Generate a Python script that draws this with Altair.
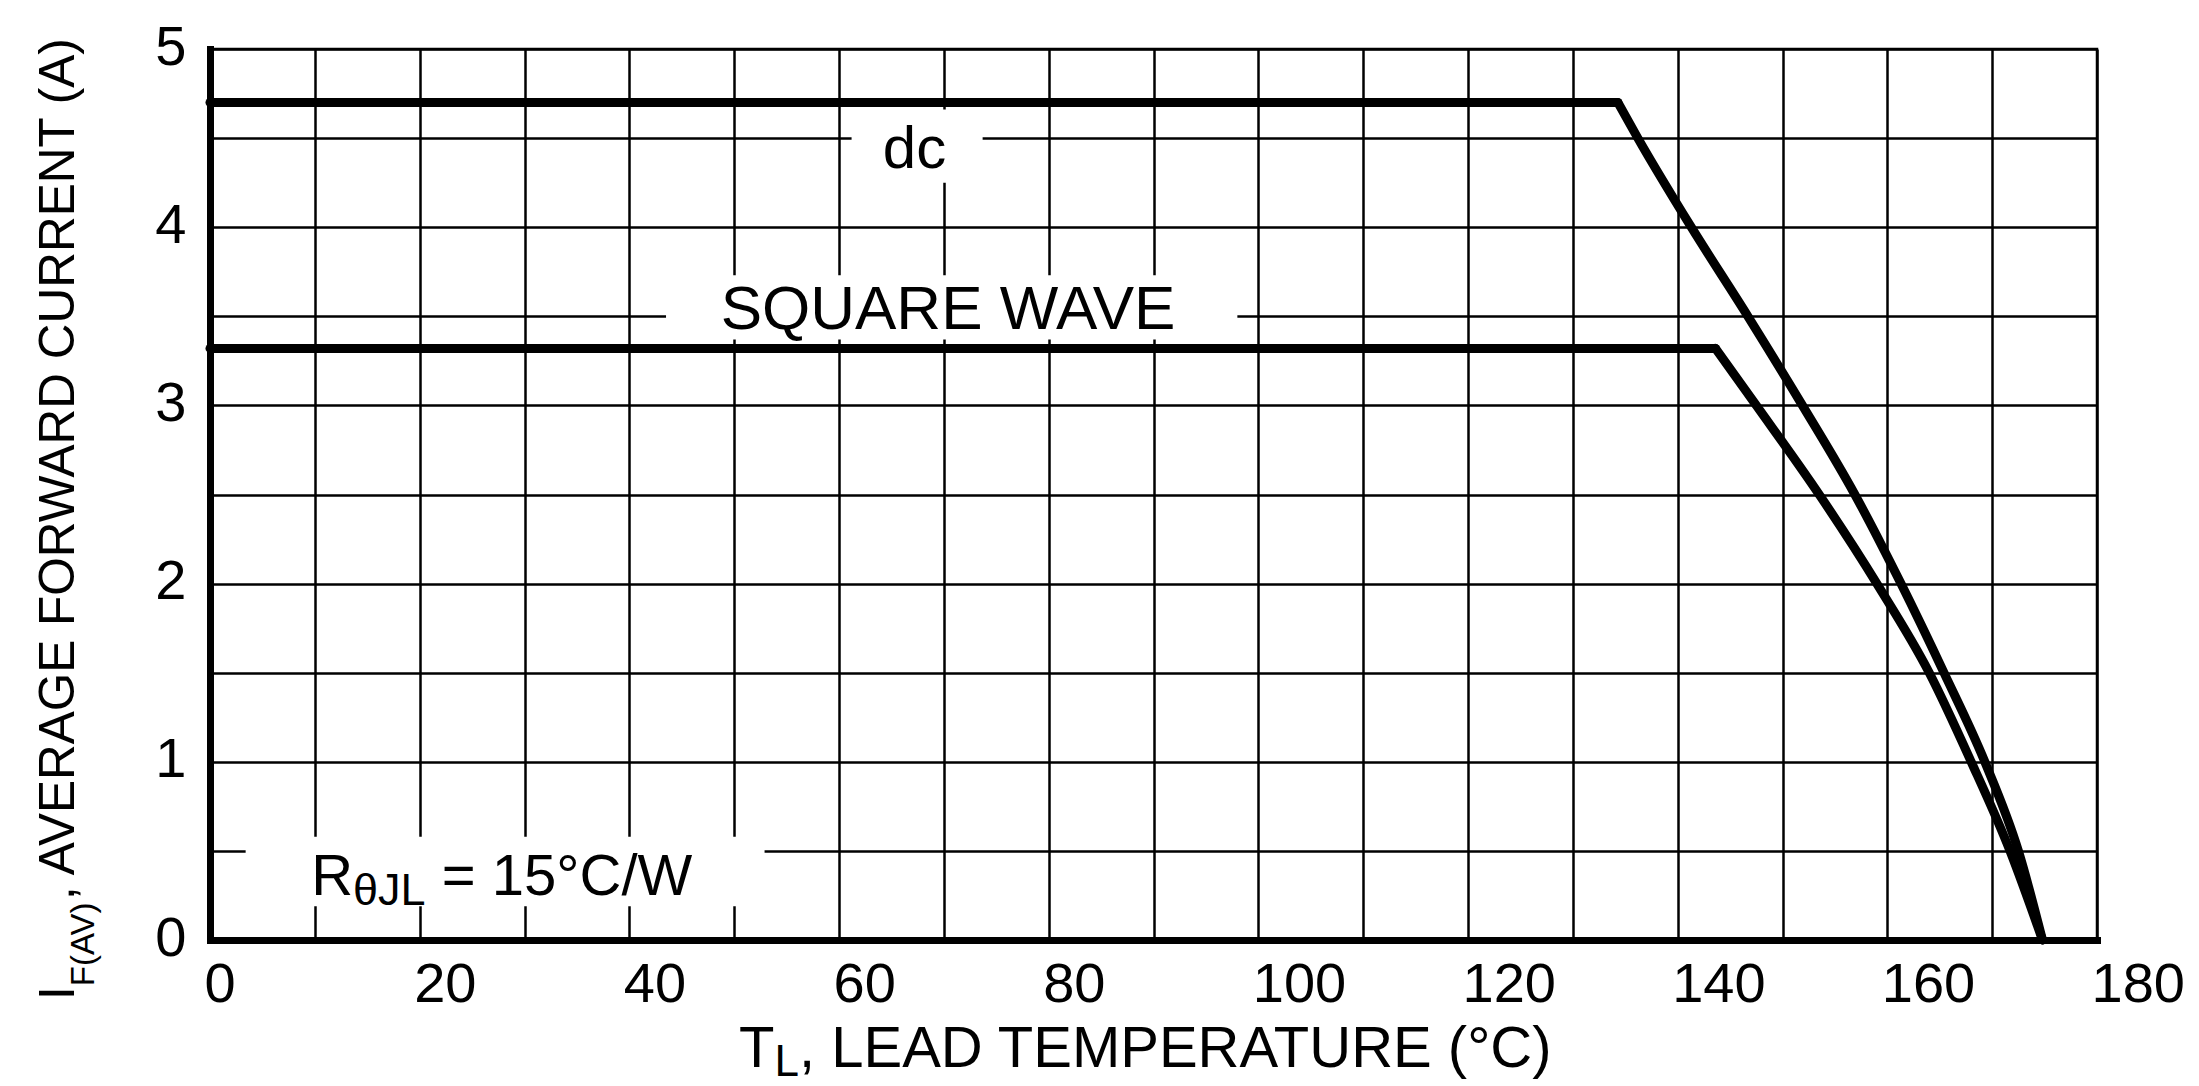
import altair as alt
import pandas as pd

# ---------------- data ----------------
dc_temp = [0, 134.3, 136.2, 141.3, 146.7, 151.9, 156.9, 161.3, 165.4, 169.3, 172.5, 174.8]
dc_current = [4.7, 4.7, 4.5, 4.0, 3.5, 3.0, 2.5, 2.0, 1.5, 1.0, 0.5, 0.0]
sw_temp = [0, 143.6, 147.5, 153.5, 159.0, 164.0, 168.0, 171.7, 174.8]
sw_current = [3.32, 3.32, 3.0, 2.5, 2.0, 1.5, 1.0, 0.5, 0.0]

x_grid = [0, 10, 20, 30, 40, 50, 60, 70, 80, 90, 100, 110, 120, 130, 140, 150, 160, 170, 180]
x_labels = [0, 20, 40, 60, 80, 100, 120, 140, 160, 180]
y_grid = [0, 0.5, 1, 1.5, 2, 2.5, 3, 3.5, 4, 4.5, 5]
y_labels = [0, 1, 2, 3, 4, 5]

# white label boxes that interrupt the grid (data units)
box_x0 = [61.2, 43.5, 3.4]
box_x1 = [73.7, 98.0, 52.9]
box_y0 = [4.25, 3.37, 0.19]
box_y1 = [4.66, 3.73, 0.58]

FONT = "Liberation Sans"
W, H = 1887, 891

ADV = {'T': .611, 'L': .556, ',': .278, ' ': .278, 'E': .667, 'A': .667, 'D': .722, 'M': .833,
       'P': .667, 'R': .722, 'U': .722, '(': .333, ')': .333, '°': .4, 'C': .722, 'I': .278,
       'F': .611, 'V': .667, 'G': .778, 'O': .778, 'W': .944, 'N': .722, 'S': .667, 'Q': .778,
       'θ': .65, 'J': .5, '=': .584, '1': .556, '5': .556, '/': .278, 'd': .556, 'c': .5}


def tw(s, size):
    return sum(ADV.get(ch, 0.6) for ch in s) * size


xs = alt.Scale(domain=[0, 180], nice=False, zero=False)
ys = alt.Scale(domain=[0, 5], nice=False, zero=False)

x_lab_expr = "indexof(%s, datum.value) >= 0 ? '' + datum.value : ''" % str(x_labels)
y_lab_expr = "indexof(%s, datum.value) >= 0 ? '' + datum.value : ''" % str(y_labels)

xaxis = alt.Axis(values=x_grid, labelExpr=x_lab_expr, title="", grid=True, gridColor="black",
                 gridWidth=2.5, gridOpacity=1, domainColor="black", domainWidth=7, domainCap="square",
                 ticks=False, tickSize=0, labelFont=FONT, labelFontSize=56, labelColor="black",
                 labelAlign="left", labelBaseline="top", labelPadding=17, labelOffset=-6,
                 labelFlush=False, labelOverlap=False)
yaxis = alt.Axis(values=y_grid, labelExpr=y_lab_expr, title="", grid=True, gridColor="black",
                 gridWidth=2.5, gridOpacity=1, domainColor="black", domainWidth=7, domainCap="square",
                 ticks=False, tickSize=0, labelFont=FONT, labelFontSize=56, labelColor="black",
                 labelAlign="right", labelBaseline="middle", labelPadding=24, labelOffset=-2,
                 labelFlush=False, labelOverlap=False)

# ---------------- layers ----------------
boxes = pd.DataFrame({"x0": box_x0, "x1": box_x1, "y0": box_y0, "y1": box_y1})
box_layer = alt.Chart(boxes).mark_rect(color="white").encode(
    x=alt.X("x0:Q", scale=xs, axis=xaxis), x2="x1:Q",
    y=alt.Y("y0:Q", scale=ys, axis=yaxis), y2="y1:Q")


def segs(name, temps, currents):
    # flat part (first two points) and falling part (from the break point on)
    flat = pd.DataFrame({"temp": temps[:2], "current": currents[:2], "series": name,
                         "order": [0, 1]})
    fall = pd.DataFrame({"temp": temps[1:], "current": currents[1:], "series": name,
                         "order": list(range(len(temps) - 1))})
    return flat, fall


dc_flat, dc_fall = segs("dc", dc_temp, dc_current)
sw_flat, sw_fall = segs("square wave", sw_temp, sw_current)
flat_df = pd.concat([dc_flat, sw_flat], ignore_index=True)
fall_df = pd.concat([dc_fall, sw_fall], ignore_index=True)

line_style = dict(color="black", strokeWidth=9, strokeCap="round", strokeJoin="round")
flat_layer = alt.Chart(flat_df).mark_line(**line_style).encode(
    x=alt.X("temp:Q", scale=xs, axis=xaxis),
    y=alt.Y("current:Q", scale=ys, axis=yaxis),
    detail="series:N", order="order:Q")
fall_layer = alt.Chart(fall_df).mark_line(interpolate="monotone", **line_style).encode(
    x=alt.X("temp:Q", scale=xs, axis=xaxis),
    y=alt.Y("current:Q", scale=ys, axis=yaxis),
    detail="series:N", order="order:Q")


def data_piece(text, x, y, size, dx=0, dy=0, align="left"):
    df = pd.DataFrame({"x": [x], "y": [y]})
    return alt.Chart(df).mark_text(text=text, font=FONT, fontSize=size, color="black", align=align,
                                   baseline="alphabetic", dx=dx, dy=dy).encode(
        x=alt.X("x:Q", scale=xs, axis=xaxis), y=alt.Y("y:Q", scale=ys, axis=yaxis))


def pixel_piece(text, px, py, size, angle=0):
    df = pd.DataFrame({"x": [0]})
    props = dict(text=text, font=FONT, fontSize=size, color="black", align="left",
                 baseline="alphabetic")
    if angle:
        props["angle"] = angle
    return alt.Chart(df).mark_text(**props).encode(x=alt.value(px), y=alt.value(py))


texts = []
# in-plot annotations
texts.append(data_piece("dc", 67.2, 4.33, 60, align="center"))
texts.append(data_piece("SQUARE WAVE", 70.4, 3.43, 62, align="center"))
rF, rS = 58, 45
r_parts = [("R", rF, 0, 0), ("θJL", rS, 10, 0), (" = 15°C/W", rF, 0, 12)]
r_total = sum(tw(t, s) + g for t, s, _, g in r_parts)
off = -r_total / 2
for t, s, d, g in r_parts:
    off += g
    texts.append(data_piece(t, 28.6, 0.25, s, dx=off, dy=d))
    off += tw(t, s)

# x-axis title with subscript
xF, xS = 58, 44
x_parts = [("T", xF, 0), ("L", xS, 9), (", LEAD TEMPERATURE (°C)", xF, 0)]
x_total = sum(tw(t, s) for t, s, _ in x_parts)
px = 938 - x_total / 2
for t, s, d in x_parts:
    texts.append(pixel_piece(t, px, 1018 + d, s))
    px += tw(t, s)

# y-axis title (rotated) with subscript
yF, yS = 49.5, 33
py = 951
texts.append(pixel_piece("I", -136, py, yF, angle=270))
py -= tw("I", yF)
texts.append(pixel_piece("F(AV)", -116, py, yS, angle=270))
py -= tw("F(AV)", yS)
texts.append(pixel_piece(", AVERAGE FORWARD CURRENT (A)", -136, py, yF, angle=270))

chart = alt.layer(box_layer, flat_layer, fall_layer, *texts).properties(
    width=W, height=H,
    autosize=alt.AutoSizeParams(type="none"),
    padding={"left": 202, "top": 41, "right": 90, "bottom": 146},
    background="white",
).configure_view(stroke="black", strokeWidth=2.5)

chart.save("out.html", embed_options={"renderer": "svg", "actions": False})
